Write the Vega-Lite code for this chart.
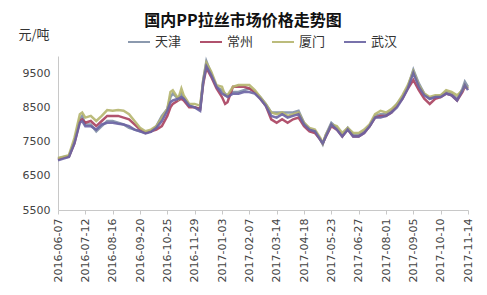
{
"$schema": "https://vega.github.io/schema/vega-lite/v6.json",
"width": 410, "height": 154,
"autosize": {"type": "none"},
"padding": {"left": 58, "top": 56, "right": 19, "bottom": 85},
"background": "white",
"title": {"text": "国内PP拉丝市场价格走势图", "font": "Noto Sans CJK SC", "fontSize": 16, "fontWeight": "bold", "color": "#111111", "anchor": "middle", "dx": -20, "offset": -1},
"config": {"view": {"stroke": null}},
"data": {"values": [
{"date":"2016-06-07","city":"天津","price":7000},{"date":"2016-06-07","city":"常州","price":6980},{"date":"2016-06-07","city":"厦门","price":7020},{"date":"2016-06-07","city":"武汉","price":6950},
{"date":"2016-06-14","city":"天津","price":7050},{"date":"2016-06-14","city":"常州","price":7030},{"date":"2016-06-14","city":"厦门","price":7060},{"date":"2016-06-14","city":"武汉","price":7000},
{"date":"2016-06-21","city":"天津","price":7080},{"date":"2016-06-21","city":"常州","price":7060},{"date":"2016-06-21","city":"厦门","price":7100},{"date":"2016-06-21","city":"武汉","price":7050},
{"date":"2016-06-28","city":"天津","price":7500},{"date":"2016-06-28","city":"常州","price":7450},{"date":"2016-06-28","city":"厦门","price":7600},{"date":"2016-06-28","city":"武汉","price":7450},
{"date":"2016-07-05","city":"天津","price":8150},{"date":"2016-07-05","city":"常州","price":8100},{"date":"2016-07-05","city":"厦门","price":8300},{"date":"2016-07-05","city":"武汉","price":8050},
{"date":"2016-07-08","city":"天津","price":8250},{"date":"2016-07-08","city":"常州","price":8150},{"date":"2016-07-08","city":"厦门","price":8350},{"date":"2016-07-08","city":"武汉","price":8100},
{"date":"2016-07-12","city":"天津","price":8000},{"date":"2016-07-12","city":"常州","price":8050},{"date":"2016-07-12","city":"厦门","price":8200},{"date":"2016-07-12","city":"武汉","price":7950},
{"date":"2016-07-19","city":"天津","price":8000},{"date":"2016-07-19","city":"常州","price":8100},{"date":"2016-07-19","city":"厦门","price":8250},{"date":"2016-07-19","city":"武汉","price":7950},
{"date":"2016-07-26","city":"天津","price":7800},{"date":"2016-07-26","city":"常州","price":7950},{"date":"2016-07-26","city":"厦门","price":8100},{"date":"2016-07-26","city":"武汉","price":7850},
{"date":"2016-08-02","city":"天津","price":7950},{"date":"2016-08-02","city":"常州","price":8100},{"date":"2016-08-02","city":"厦门","price":8250},{"date":"2016-08-02","city":"武汉","price":8000},
{"date":"2016-08-09","city":"天津","price":8100},{"date":"2016-08-09","city":"常州","price":8250},{"date":"2016-08-09","city":"厦门","price":8420},{"date":"2016-08-09","city":"武汉","price":8050},
{"date":"2016-08-16","city":"天津","price":8100},{"date":"2016-08-16","city":"常州","price":8250},{"date":"2016-08-16","city":"厦门","price":8400},{"date":"2016-08-16","city":"武汉","price":8050},
{"date":"2016-08-23","city":"天津","price":8050},{"date":"2016-08-23","city":"常州","price":8250},{"date":"2016-08-23","city":"厦门","price":8420},{"date":"2016-08-23","city":"武汉","price":8020},
{"date":"2016-08-30","city":"天津","price":8000},{"date":"2016-08-30","city":"常州","price":8200},{"date":"2016-08-30","city":"厦门","price":8400},{"date":"2016-08-30","city":"武汉","price":8000},
{"date":"2016-09-06","city":"天津","price":7900},{"date":"2016-09-06","city":"常州","price":8150},{"date":"2016-09-06","city":"厦门","price":8300},{"date":"2016-09-06","city":"武汉","price":7950},
{"date":"2016-09-13","city":"天津","price":7850},{"date":"2016-09-13","city":"常州","price":8000},{"date":"2016-09-13","city":"厦门","price":8100},{"date":"2016-09-13","city":"武汉","price":7850},
{"date":"2016-09-20","city":"天津","price":7800},{"date":"2016-09-20","city":"常州","price":7850},{"date":"2016-09-20","city":"厦门","price":7900},{"date":"2016-09-20","city":"武汉","price":7800},
{"date":"2016-09-27","city":"天津","price":7760},{"date":"2016-09-27","city":"常州","price":7750},{"date":"2016-09-27","city":"厦门","price":7800},{"date":"2016-09-27","city":"武汉","price":7740},
{"date":"2016-10-04","city":"天津","price":7800},{"date":"2016-10-04","city":"常州","price":7800},{"date":"2016-10-04","city":"厦门","price":7850},{"date":"2016-10-04","city":"武汉","price":7780},
{"date":"2016-10-11","city":"天津","price":7950},{"date":"2016-10-11","city":"常州","price":7850},{"date":"2016-10-11","city":"厦门","price":7950},{"date":"2016-10-11","city":"武汉","price":7900},
{"date":"2016-10-18","city":"天津","price":8250},{"date":"2016-10-18","city":"常州","price":7950},{"date":"2016-10-18","city":"厦门","price":8200},{"date":"2016-10-18","city":"武汉","price":8100},
{"date":"2016-10-25","city":"天津","price":8450},{"date":"2016-10-25","city":"常州","price":8250},{"date":"2016-10-25","city":"厦门","price":8450},{"date":"2016-10-25","city":"武汉","price":8400},
{"date":"2016-10-29","city":"天津","price":8800},{"date":"2016-10-29","city":"常州","price":8500},{"date":"2016-10-29","city":"厦门","price":8950},{"date":"2016-10-29","city":"武汉","price":8650},
{"date":"2016-11-01","city":"天津","price":8900},{"date":"2016-11-01","city":"常州","price":8600},{"date":"2016-11-01","city":"厦门","price":9000},{"date":"2016-11-01","city":"武汉","price":8700},
{"date":"2016-11-08","city":"天津","price":8750},{"date":"2016-11-08","city":"常州","price":8700},{"date":"2016-11-08","city":"厦门","price":8750},{"date":"2016-11-08","city":"武汉","price":8750},
{"date":"2016-11-12","city":"天津","price":8900},{"date":"2016-11-12","city":"常州","price":8750},{"date":"2016-11-12","city":"厦门","price":9050},{"date":"2016-11-12","city":"武汉","price":8800},
{"date":"2016-11-15","city":"天津","price":8750},{"date":"2016-11-15","city":"常州","price":8700},{"date":"2016-11-15","city":"厦门","price":8850},{"date":"2016-11-15","city":"武汉","price":8750},
{"date":"2016-11-22","city":"天津","price":8550},{"date":"2016-11-22","city":"常州","price":8500},{"date":"2016-11-22","city":"厦门","price":8600},{"date":"2016-11-22","city":"武汉","price":8550},
{"date":"2016-11-29","city":"天津","price":8500},{"date":"2016-11-29","city":"常州","price":8500},{"date":"2016-11-29","city":"厦门","price":8600},{"date":"2016-11-29","city":"武汉","price":8500},
{"date":"2016-12-06","city":"天津","price":8450},{"date":"2016-12-06","city":"常州","price":8450},{"date":"2016-12-06","city":"厦门","price":8550},{"date":"2016-12-06","city":"武汉","price":8400},
{"date":"2016-12-10","city":"天津","price":9300},{"date":"2016-12-10","city":"常州","price":9200},{"date":"2016-12-10","city":"厦门","price":9300},{"date":"2016-12-10","city":"武汉","price":9250},
{"date":"2016-12-14","city":"天津","price":9850},{"date":"2016-12-14","city":"常州","price":9650},{"date":"2016-12-14","city":"厦门","price":9800},{"date":"2016-12-14","city":"武汉","price":9700},
{"date":"2016-12-20","city":"天津","price":9500},{"date":"2016-12-20","city":"常州","price":9400},{"date":"2016-12-20","city":"厦门","price":9550},{"date":"2016-12-20","city":"武汉","price":9450},
{"date":"2016-12-27","city":"天津","price":9100},{"date":"2016-12-27","city":"常州","price":9050},{"date":"2016-12-27","city":"厦门","price":9150},{"date":"2016-12-27","city":"武汉","price":9100},
{"date":"2017-01-03","city":"天津","price":9000},{"date":"2017-01-03","city":"常州","price":8800},{"date":"2017-01-03","city":"厦门","price":9100},{"date":"2017-01-03","city":"武汉","price":8900},
{"date":"2017-01-07","city":"天津","price":8900},{"date":"2017-01-07","city":"常州","price":8600},{"date":"2017-01-07","city":"厦门","price":8850},{"date":"2017-01-07","city":"武汉","price":8850},
{"date":"2017-01-10","city":"天津","price":8850},{"date":"2017-01-10","city":"常州","price":8650},{"date":"2017-01-10","city":"厦门","price":8850},{"date":"2017-01-10","city":"武汉","price":8800},
{"date":"2017-01-17","city":"天津","price":8950},{"date":"2017-01-17","city":"常州","price":9100},{"date":"2017-01-17","city":"厦门","price":9100},{"date":"2017-01-17","city":"武汉","price":8900},
{"date":"2017-01-24","city":"天津","price":8950},{"date":"2017-01-24","city":"常州","price":9100},{"date":"2017-01-24","city":"厦门","price":9150},{"date":"2017-01-24","city":"武汉","price":8900},
{"date":"2017-01-31","city":"天津","price":9000},{"date":"2017-01-31","city":"常州","price":9100},{"date":"2017-01-31","city":"厦门","price":9150},{"date":"2017-01-31","city":"武汉","price":8950},
{"date":"2017-02-07","city":"天津","price":9050},{"date":"2017-02-07","city":"常州","price":9050},{"date":"2017-02-07","city":"厦门","price":9150},{"date":"2017-02-07","city":"武汉","price":8950},
{"date":"2017-02-14","city":"天津","price":8950},{"date":"2017-02-14","city":"常州","price":8950},{"date":"2017-02-14","city":"厦门","price":9000},{"date":"2017-02-14","city":"武汉","price":8900},
{"date":"2017-02-21","city":"天津","price":8800},{"date":"2017-02-21","city":"常州","price":8750},{"date":"2017-02-21","city":"厦门","price":8800},{"date":"2017-02-21","city":"武汉","price":8750},
{"date":"2017-02-28","city":"天津","price":8600},{"date":"2017-02-28","city":"常州","price":8550},{"date":"2017-02-28","city":"厦门","price":8600},{"date":"2017-02-28","city":"武汉","price":8550},
{"date":"2017-03-07","city":"天津","price":8350},{"date":"2017-03-07","city":"常州","price":8150},{"date":"2017-03-07","city":"厦门","price":8350},{"date":"2017-03-07","city":"武汉","price":8250},
{"date":"2017-03-14","city":"天津","price":8350},{"date":"2017-03-14","city":"常州","price":8050},{"date":"2017-03-14","city":"厦门","price":8300},{"date":"2017-03-14","city":"武汉","price":8200},
{"date":"2017-03-21","city":"天津","price":8350},{"date":"2017-03-21","city":"常州","price":8150},{"date":"2017-03-21","city":"厦门","price":8350},{"date":"2017-03-21","city":"武汉","price":8300},
{"date":"2017-03-28","city":"天津","price":8350},{"date":"2017-03-28","city":"常州","price":8050},{"date":"2017-03-28","city":"厦门","price":8250},{"date":"2017-03-28","city":"武汉","price":8200},
{"date":"2017-04-04","city":"天津","price":8350},{"date":"2017-04-04","city":"常州","price":8150},{"date":"2017-04-04","city":"厦门","price":8300},{"date":"2017-04-04","city":"武汉","price":8250},
{"date":"2017-04-11","city":"天津","price":8400},{"date":"2017-04-11","city":"常州","price":8200},{"date":"2017-04-11","city":"厦门","price":8350},{"date":"2017-04-11","city":"武汉","price":8300},
{"date":"2017-04-18","city":"天津","price":8050},{"date":"2017-04-18","city":"常州","price":7950},{"date":"2017-04-18","city":"厦门","price":8050},{"date":"2017-04-18","city":"武汉","price":8000},
{"date":"2017-04-25","city":"天津","price":7850},{"date":"2017-04-25","city":"常州","price":7800},{"date":"2017-04-25","city":"厦门","price":7900},{"date":"2017-04-25","city":"武汉","price":7850},
{"date":"2017-05-02","city":"天津","price":7800},{"date":"2017-05-02","city":"常州","price":7750},{"date":"2017-05-02","city":"厦门","price":7850},{"date":"2017-05-02","city":"武汉","price":7800},
{"date":"2017-05-09","city":"天津","price":7550},{"date":"2017-05-09","city":"常州","price":7550},{"date":"2017-05-09","city":"厦门","price":7600},{"date":"2017-05-09","city":"武汉","price":7550},
{"date":"2017-05-12","city":"天津","price":7420},{"date":"2017-05-12","city":"常州","price":7450},{"date":"2017-05-12","city":"厦门","price":7450},{"date":"2017-05-12","city":"武汉","price":7450},
{"date":"2017-05-16","city":"天津","price":7700},{"date":"2017-05-16","city":"常州","price":7650},{"date":"2017-05-16","city":"厦门","price":7700},{"date":"2017-05-16","city":"武汉","price":7650},
{"date":"2017-05-23","city":"天津","price":8050},{"date":"2017-05-23","city":"常州","price":7950},{"date":"2017-05-23","city":"厦门","price":8000},{"date":"2017-05-23","city":"武汉","price":8000},
{"date":"2017-05-30","city":"天津","price":7900},{"date":"2017-05-30","city":"常州","price":7850},{"date":"2017-05-30","city":"厦门","price":7950},{"date":"2017-05-30","city":"武汉","price":7850},
{"date":"2017-06-06","city":"天津","price":7700},{"date":"2017-06-06","city":"常州","price":7650},{"date":"2017-06-06","city":"厦门","price":7750},{"date":"2017-06-06","city":"武汉","price":7650},
{"date":"2017-06-13","city":"天津","price":7900},{"date":"2017-06-13","city":"常州","price":7850},{"date":"2017-06-13","city":"厦门","price":7900},{"date":"2017-06-13","city":"武汉","price":7850},
{"date":"2017-06-20","city":"天津","price":7700},{"date":"2017-06-20","city":"常州","price":7650},{"date":"2017-06-20","city":"厦门","price":7750},{"date":"2017-06-20","city":"武汉","price":7650},
{"date":"2017-06-27","city":"天津","price":7700},{"date":"2017-06-27","city":"常州","price":7650},{"date":"2017-06-27","city":"厦门","price":7750},{"date":"2017-06-27","city":"武汉","price":7650},
{"date":"2017-07-04","city":"天津","price":7800},{"date":"2017-07-04","city":"常州","price":7750},{"date":"2017-07-04","city":"厦门","price":7850},{"date":"2017-07-04","city":"武汉","price":7750},
{"date":"2017-07-11","city":"天津","price":7950},{"date":"2017-07-11","city":"常州","price":7950},{"date":"2017-07-11","city":"厦门","price":8000},{"date":"2017-07-11","city":"武汉","price":7950},
{"date":"2017-07-18","city":"天津","price":8250},{"date":"2017-07-18","city":"常州","price":8200},{"date":"2017-07-18","city":"厦门","price":8300},{"date":"2017-07-18","city":"武汉","price":8200},
{"date":"2017-07-25","city":"天津","price":8300},{"date":"2017-07-25","city":"常州","price":8250},{"date":"2017-07-25","city":"厦门","price":8400},{"date":"2017-07-25","city":"武汉","price":8200},
{"date":"2017-08-01","city":"天津","price":8300},{"date":"2017-08-01","city":"常州","price":8250},{"date":"2017-08-01","city":"厦门","price":8350},{"date":"2017-08-01","city":"武汉","price":8250},
{"date":"2017-08-08","city":"天津","price":8400},{"date":"2017-08-08","city":"常州","price":8350},{"date":"2017-08-08","city":"厦门","price":8450},{"date":"2017-08-08","city":"武汉","price":8350},
{"date":"2017-08-15","city":"天津","price":8600},{"date":"2017-08-15","city":"常州","price":8550},{"date":"2017-08-15","city":"厦门","price":8600},{"date":"2017-08-15","city":"武汉","price":8500},
{"date":"2017-08-22","city":"天津","price":8800},{"date":"2017-08-22","city":"常州","price":8750},{"date":"2017-08-22","city":"厦门","price":8850},{"date":"2017-08-22","city":"武汉","price":8750},
{"date":"2017-08-29","city":"天津","price":9100},{"date":"2017-08-29","city":"常州","price":9050},{"date":"2017-08-29","city":"厦门","price":9150},{"date":"2017-08-29","city":"武汉","price":9050},
{"date":"2017-09-05","city":"天津","price":9600},{"date":"2017-09-05","city":"常州","price":9300},{"date":"2017-09-05","city":"厦门","price":9550},{"date":"2017-09-05","city":"武汉","price":9500},
{"date":"2017-09-12","city":"天津","price":9200},{"date":"2017-09-12","city":"常州","price":9000},{"date":"2017-09-12","city":"厦门","price":9150},{"date":"2017-09-12","city":"武汉","price":9100},
{"date":"2017-09-19","city":"天津","price":8900},{"date":"2017-09-19","city":"常州","price":8750},{"date":"2017-09-19","city":"厦门","price":8900},{"date":"2017-09-19","city":"武汉","price":8850},
{"date":"2017-09-26","city":"天津","price":8750},{"date":"2017-09-26","city":"常州","price":8600},{"date":"2017-09-26","city":"厦门","price":8800},{"date":"2017-09-26","city":"武汉","price":8750},
{"date":"2017-10-03","city":"天津","price":8800},{"date":"2017-10-03","city":"常州","price":8750},{"date":"2017-10-03","city":"厦门","price":8850},{"date":"2017-10-03","city":"武汉","price":8800},
{"date":"2017-10-10","city":"天津","price":8850},{"date":"2017-10-10","city":"常州","price":8800},{"date":"2017-10-10","city":"厦门","price":8850},{"date":"2017-10-10","city":"武汉","price":8800},
{"date":"2017-10-17","city":"天津","price":8950},{"date":"2017-10-17","city":"常州","price":8900},{"date":"2017-10-17","city":"厦门","price":9000},{"date":"2017-10-17","city":"武汉","price":8900},
{"date":"2017-10-24","city":"天津","price":8900},{"date":"2017-10-24","city":"常州","price":8850},{"date":"2017-10-24","city":"厦门","price":8950},{"date":"2017-10-24","city":"武汉","price":8850},
{"date":"2017-10-31","city":"天津","price":8750},{"date":"2017-10-31","city":"常州","price":8700},{"date":"2017-10-31","city":"厦门","price":8850},{"date":"2017-10-31","city":"武汉","price":8700},
{"date":"2017-11-07","city":"天津","price":9050},{"date":"2017-11-07","city":"常州","price":8950},{"date":"2017-11-07","city":"厦门","price":9000},{"date":"2017-11-07","city":"武汉","price":9000},
{"date":"2017-11-10","city":"天津","price":9250},{"date":"2017-11-10","city":"常州","price":9100},{"date":"2017-11-10","city":"厦门","price":9150},{"date":"2017-11-10","city":"武汉","price":9150},
{"date":"2017-11-14","city":"天津","price":9100},{"date":"2017-11-14","city":"常州","price":9050},{"date":"2017-11-14","city":"厦门","price":9050},{"date":"2017-11-14","city":"武汉","price":9000}
]},
"mark": {"type": "line", "strokeWidth": 2.5, "opacity": 0.9},
"encoding": {
 "x": {"field": "date", "type": "temporal", "timeUnit": "utcyearmonthdate",
  "scale": {"domain": [{"year": 2016, "month": 6, "date": 7, "utc": true}, {"year": 2017, "month": 11, "date": 14, "utc": true}]},
  "axis": {"title": null, "grid": false, "format": "%Y-%m-%d", "labelAngle": 270, "labelFont": "DejaVu Sans", "labelFontSize": 11, "labelColor": "#444444", "labelPadding": 4, "tickSize": 4, "tickColor": "#c8c8c8", "domainColor": "#c8c8c8", "labelOverlap": false, "labelFlush": false,
   "values": [
    {"year": 2016, "month": 6, "date": 7, "utc": true},
    {"year": 2016, "month": 7, "date": 12, "utc": true},
    {"year": 2016, "month": 8, "date": 16, "utc": true},
    {"year": 2016, "month": 9, "date": 20, "utc": true},
    {"year": 2016, "month": 10, "date": 25, "utc": true},
    {"year": 2016, "month": 11, "date": 29, "utc": true},
    {"year": 2017, "month": 1, "date": 3, "utc": true},
    {"year": 2017, "month": 2, "date": 7, "utc": true},
    {"year": 2017, "month": 3, "date": 14, "utc": true},
    {"year": 2017, "month": 4, "date": 18, "utc": true},
    {"year": 2017, "month": 5, "date": 23, "utc": true},
    {"year": 2017, "month": 6, "date": 27, "utc": true},
    {"year": 2017, "month": 8, "date": 1, "utc": true},
    {"year": 2017, "month": 9, "date": 5, "utc": true},
    {"year": 2017, "month": 10, "date": 10, "utc": true},
    {"year": 2017, "month": 11, "date": 14, "utc": true}
   ]}},
 "y": {"field": "price", "type": "quantitative",
  "scale": {"domain": [5500, 10000], "nice": false, "zero": false},
  "axis": {"values": [5500, 6500, 7500, 8500, 9500], "format": "d", "grid": false, "ticks": false, "labelPadding": 8, "labelFont": "DejaVu Sans", "labelFontSize": 11, "labelColor": "#444444", "domainColor": "#c8c8c8",
   "title": "元/吨", "titleAngle": 0, "titleX": -40, "titleY": -22, "titleAlign": "left", "titleBaseline": "middle", "titleFont": "Noto Sans CJK SC", "titleFontSize": 13, "titleFontWeight": "normal", "titleColor": "#333333"}},
 "color": {"field": "city", "type": "nominal",
  "scale": {"domain": ["天津", "常州", "厦门", "武汉"], "range": ["#7f8ea6", "#a8405e", "#b5b56e", "#6a63a3"]},
  "legend": {"orient": "none", "legendX": 69, "legendY": -26, "direction": "horizontal", "title": null, "symbolType": "stroke", "symbolSize": 484, "symbolStrokeWidth": 2, "labelFont": "Noto Sans CJK SC", "labelFontSize": 13, "labelColor": "#333333", "columnPadding": 14, "labelOffset": 4}}
}
}
